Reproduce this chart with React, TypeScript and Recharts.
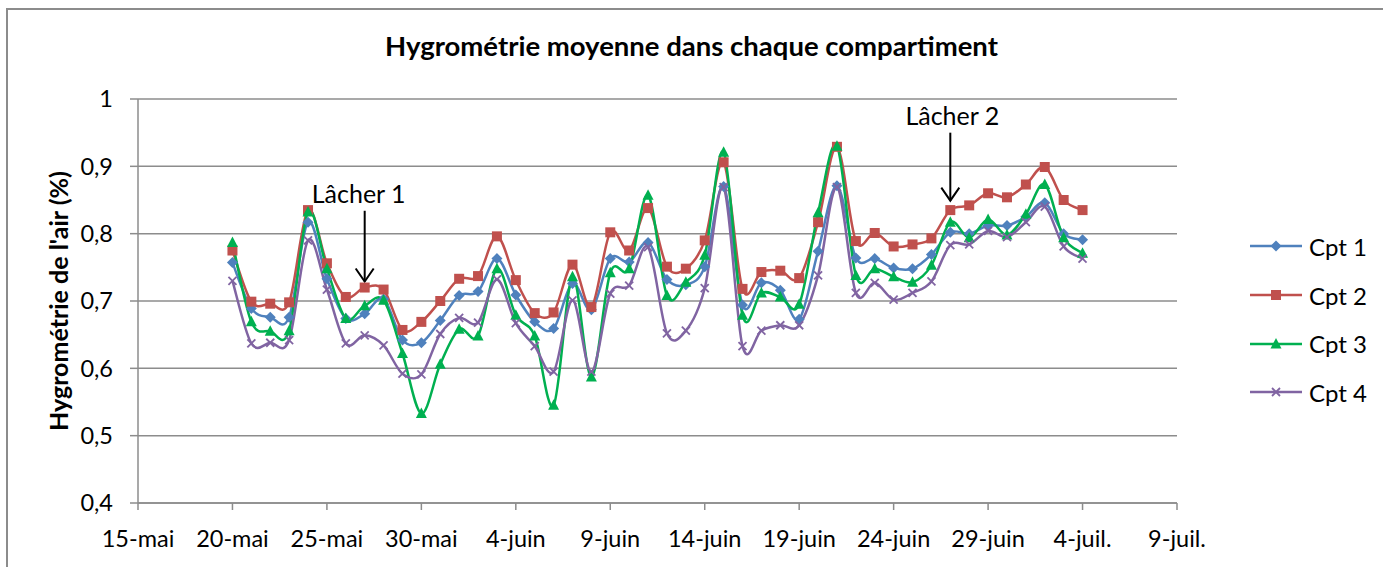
import React from "react";
import { LineChart, Line, XAxis, YAxis, CartesianGrid, ReferenceLine } from "recharts";

// day index counted from 15-mai
const MONTH_START: Record<string, number> = { mai: 0, juin: 31, "juil.": 61 };
const dayOffset = (label: string) => {
  const [d, m] = label.split("-");
  return Number(d) + MONTH_START[m] - 15;
};

const xTickLabels = [
  "15-mai", "20-mai", "25-mai", "30-mai", "4-juin", "9-juin",
  "14-juin", "19-juin", "24-juin", "29-juin", "4-juil.", "9-juil.",
];
const yTicks = [0.4, 0.5, 0.6, 0.7, 0.8, 0.9, 1];

const dates = [
  "20-mai", "21-mai", "22-mai", "23-mai", "24-mai", "25-mai", "26-mai", "27-mai", "28-mai", "29-mai", "30-mai", "31-mai",
  "1-juin", "2-juin", "3-juin", "4-juin", "5-juin", "6-juin", "7-juin", "8-juin", "9-juin", "10-juin", "11-juin", "12-juin",
  "13-juin", "14-juin", "15-juin", "16-juin", "17-juin", "18-juin", "19-juin", "20-juin", "21-juin", "22-juin", "23-juin",
  "24-juin", "25-juin", "26-juin", "27-juin", "28-juin", "29-juin", "30-juin", "1-juil.", "2-juil.", "3-juil.", "4-juil.",
];

const cpt1 = [
  0.757, 0.689, 0.676, 0.676, 0.817, 0.733, 0.674, 0.681, 0.703, 0.642, 0.638, 0.671,
  0.708, 0.714, 0.763, 0.709, 0.669, 0.659, 0.726, 0.687, 0.763, 0.758, 0.787, 0.732,
  0.724, 0.751, 0.87, 0.694, 0.727, 0.716, 0.673, 0.774, 0.871, 0.764, 0.763,
  0.749, 0.748, 0.769, 0.802, 0.8, 0.812, 0.812, 0.825, 0.846, 0.8, 0.791,
];
const cpt2 = [
  0.775, 0.699, 0.696, 0.698, 0.835, 0.756, 0.706, 0.72, 0.717, 0.657, 0.669, 0.7,
  0.733, 0.737, 0.796, 0.731, 0.682, 0.683, 0.754, 0.691, 0.802, 0.775, 0.838, 0.751,
  0.748, 0.79, 0.906, 0.718, 0.743, 0.745, 0.734, 0.817, 0.929, 0.789, 0.801,
  0.781, 0.784, 0.793, 0.835, 0.842, 0.86, 0.854, 0.873, 0.899, 0.85, 0.835,
];
const cpt3 = [
  0.787, 0.669, 0.655, 0.656, 0.832, 0.748, 0.674, 0.693, 0.701, 0.622, 0.533, 0.606,
  0.658, 0.648, 0.748, 0.679, 0.648, 0.545, 0.736, 0.587, 0.742, 0.748, 0.857, 0.708,
  0.728, 0.768, 0.921, 0.679, 0.712, 0.706, 0.695, 0.831, 0.93, 0.738, 0.748,
  0.736, 0.728, 0.753, 0.817, 0.794, 0.821, 0.798, 0.829, 0.873, 0.794, 0.771,
];
const cpt4 = [
  0.73, 0.637, 0.638, 0.642, 0.79, 0.717, 0.637, 0.649, 0.634, 0.592, 0.591, 0.651,
  0.675, 0.668, 0.732, 0.667, 0.633, 0.595, 0.701, 0.595, 0.711, 0.723, 0.78, 0.652,
  0.656, 0.719, 0.869, 0.633, 0.656, 0.664, 0.664, 0.738, 0.869, 0.712, 0.727,
  0.702, 0.712, 0.729, 0.783, 0.784, 0.804, 0.795, 0.817, 0.84, 0.781, 0.763,
];

const releases = [
  { label: "Lâcher 1", date: "27-mai", top: 0.834, tip: 0.729, dx: -6 },
  { label: "Lâcher 2", date: "27-juin", top: 0.95, tip: 0.849, dx: 2 },
];

const data = dates.map((d, i) => ({
  day: dayOffset(d),
  c1: cpt1[i],
  c2: cpt2[i],
  c3: cpt3[i],
  c4: cpt4[i],
}));

const FONT = "Lato, 'Open Sans', sans-serif";

// Excel-style smoothed line (cardinal bezier)
function excelSmooth(context: any) {
  let pts: number[][] = [];
  return {
    areaStart() {},
    areaEnd() {},
    lineStart() {
      pts = [];
    },
    point(x: number, y: number) {
      pts.push([+x, +y]);
    },
    lineEnd() {
      if (!pts.length) return;
      context.moveTo(pts[0][0], pts[0][1]);
      for (let i = 0; i < pts.length - 1; i++) {
        const p0 = pts[i - 1] || pts[i];
        const p1 = pts[i];
        const p2 = pts[i + 1];
        const p3 = pts[i + 2] || p2;
        context.bezierCurveTo(
          p1[0] + (p2[0] - p0[0]) / 6,
          p1[1] + (p2[1] - p0[1]) / 6,
          p2[0] - (p3[0] - p1[0]) / 6,
          p2[1] - (p3[1] - p1[1]) / 6,
          p2[0],
          p2[1]
        );
      }
    },
  };
}

const series = [
  { key: "c1", name: "Cpt 1", color: "#4F81BD", marker: "diamond" },
  { key: "c2", name: "Cpt 2", color: "#C0504D", marker: "square" },
  { key: "c3", name: "Cpt 3", color: "#00B050", marker: "triangle" },
  { key: "c4", name: "Cpt 4", color: "#8064A2", marker: "cross" },
];

function Marker({ kind, cx, cy, color }: { kind: string; cx: number; cy: number; color: string }) {
  if (cx == null || cy == null) return null;
  if (kind === "diamond") {
    const r = 5.5;
    return <polygon points={`${cx},${cy - r} ${cx + r},${cy} ${cx},${cy + r} ${cx - r},${cy}`} fill={color} />;
  }
  if (kind === "square") {
    return <rect x={cx - 5} y={cy - 5} width={10} height={10} fill={color} />;
  }
  if (kind === "triangle") {
    return <polygon points={`${cx},${cy - 6} ${cx + 5.5},${cy + 4.5} ${cx - 5.5},${cy + 4.5}`} fill={color} />;
  }
  const r = 4;
  return (
    <g stroke={color} strokeWidth={1.8}>
      <line x1={cx - r} y1={cy - r} x2={cx + r} y2={cy + r} />
      <line x1={cx - r} y1={cy + r} x2={cx + r} y2={cy - r} />
    </g>
  );
}

function ReleaseArrow(props: any) {
  const { x1, y1, x2, y2, text, dx } = props;
  if (x1 == null) return null;
  return (
    <g>
      <text
        x={x1 + dx}
        y={y1 - 18}
        textAnchor="middle"
        dominantBaseline="central"
        fontFamily={FONT}
        fontSize={25}
        fill="#000"
      >
        {text}
      </text>
      <line x1={x1} y1={y1} x2={x2} y2={y2} stroke="#000" strokeWidth={2} />
      <polyline
        points={`${x2 - 9},${y2 - 13} ${x2},${y2} ${x2 + 9},${y2 - 13}`}
        fill="none"
        stroke="#000"
        strokeWidth={2}
      />
    </g>
  );
}

function LegendBox() {
  return (
    <div style={{ position: "absolute", left: 1248, top: 222, fontFamily: FONT, fontSize: 24, color: "#000" }}>
      {series.map((s) => (
        <div key={s.key} style={{ display: "flex", alignItems: "center", height: 48.7 }}>
          <svg width={56} height={14} style={{ marginRight: 5 }}>
            <line x1={2} y1={7} x2={54} y2={7} stroke={s.color} strokeWidth={2.5} />
            <Marker kind={s.marker} cx={28} cy={7} color={s.color} />
          </svg>
          <span>{s.name}</span>
        </div>
      ))}
    </div>
  );
}

export default function App() {
  return (
    <div style={{ position: "fixed", left: 0, top: 0, width: 1383, height: 567, background: "#fff", overflow: "hidden" }}>
      <div
        style={{
          position: "absolute",
          left: 6,
          top: 8,
          width: 1390,
          height: 600,
          border: "2px solid #8c8c8c",
          boxSizing: "border-box",
        }}
      />
      <div
        style={{
          position: "absolute",
          left: 0,
          width: 1383,
          top: 29,
          textAlign: "center",
          fontFamily: FONT,
          fontWeight: "bold",
          fontSize: 27.5,
          color: "#000",
        }}
      >
        Hygrométrie moyenne dans chaque compartiment
      </div>
      <div
        style={{
          position: "absolute",
          left: 58,
          top: 301,
          transform: "translate(-50%, -50%) rotate(-90deg)",
          whiteSpace: "nowrap",
          fontFamily: FONT,
          fontWeight: "bold",
          fontSize: 25,
          color: "#000",
        }}
      >
        Hygrométrie de l'air (%)
      </div>
      <div style={{ position: "absolute", left: 0, top: 0 }}>
        <LineChart width={1383} height={567} data={data} margin={{ top: 99, right: 206, bottom: 0, left: 0 }}>
          <CartesianGrid vertical={false} stroke="#8c8c8c" strokeWidth={1.5} />
          <XAxis
            type="number"
            dataKey="day"
            domain={[0, 55]}
            ticks={xTickLabels.map(dayOffset)}
            tickFormatter={(v: number) => xTickLabels[xTickLabels.map(dayOffset).indexOf(v)]}
            height={64}
            stroke="#8c8c8c"
            strokeWidth={1.5}
            tickSize={7}
            tickMargin={20}
            tick={{ fill: "#000", fontSize: 23.5, fontFamily: FONT }}
            interval={0}
          />
          <YAxis
            type="number"
            domain={[0.4, 1]}
            ticks={yTicks}
            width={138}
            stroke="#8c8c8c"
            strokeWidth={1.5}
            tickSize={8}
            tickMargin={17}
            tickFormatter={(v: number) => (v === 1 ? "1" : v.toFixed(1).replace(".", ","))}
            tick={{ fill: "#000", fontSize: 23.5, fontFamily: FONT }}
            interval={0}
          />
          {series.map((s) => (
            <Line
              key={s.key}
              dataKey={s.key}
              name={s.name}
              type={excelSmooth as any}
              stroke={s.color}
              strokeWidth={2.5}
              dot={(p: any) => <Marker key={`${s.key}-${p.index}`} kind={s.marker} cx={p.cx} cy={p.cy} color={s.color} />}
              activeDot={false}
              isAnimationActive={false}
            />
          ))}
          {releases.map((r) => (
            <ReferenceLine
              key={r.label}
              segment={[
                { x: dayOffset(r.date), y: r.top },
                { x: dayOffset(r.date), y: r.tip },
              ]}
              ifOverflow="visible"
              shape={(p: any) => <ReleaseArrow {...p} text={r.label} dx={r.dx} />}
            />
          ))}
        </LineChart>
      </div>
      <LegendBox />
    </div>
  );
}
